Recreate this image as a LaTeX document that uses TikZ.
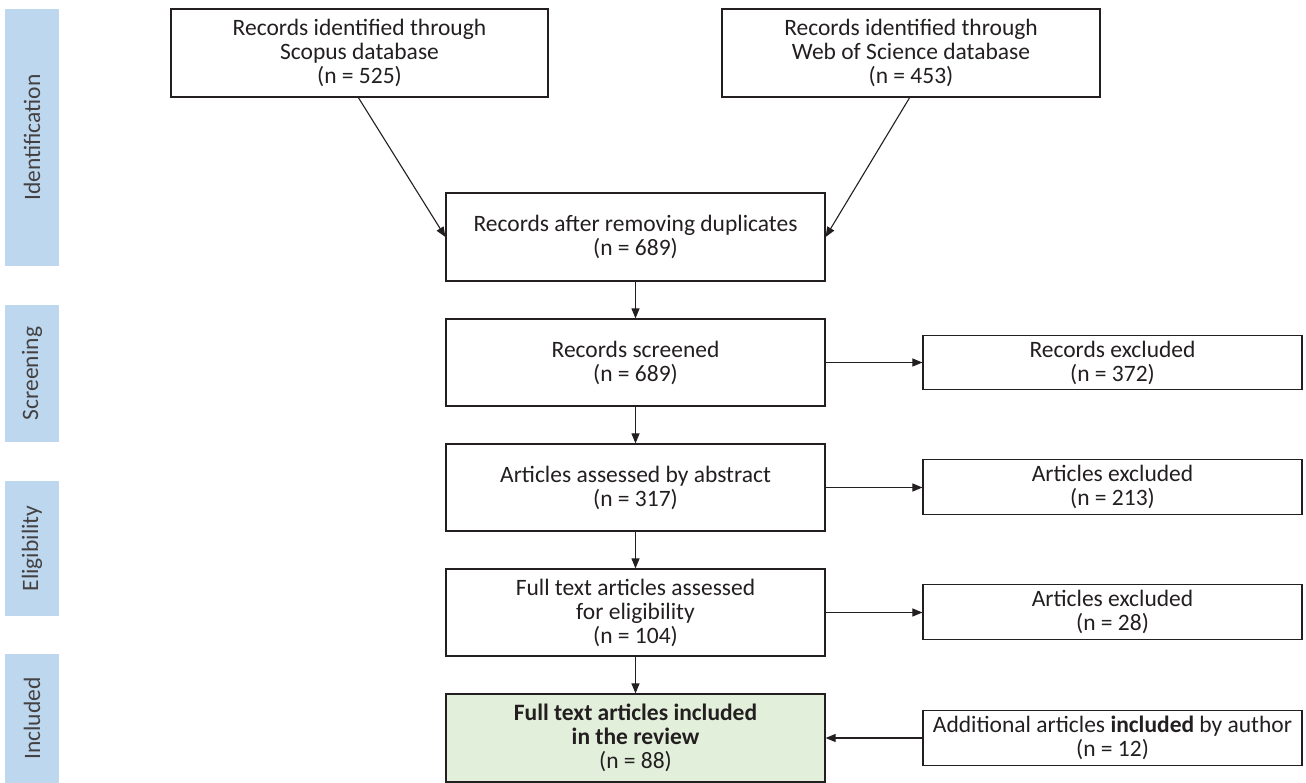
\documentclass[tikz,border=0pt]{standalone}
\usepackage{fontspec}
\setmainfont{Carlito}
\usetikzlibrary{arrows.meta}
\definecolor{sidebar}{HTML}{BDD7EE}
\definecolor{incl}{HTML}{E2EFDA}
\definecolor{ink}{HTML}{231F20}
\tikzset{
  box/.style={draw=ink, line width=1.2pt, align=center, inner sep=0pt, text=ink,
    font=\fontsize{23.5}{24}\selectfont},
  side/.style={fill=sidebar, draw=none, inner sep=0pt},
  sidetext/.style={rotate=90, text=ink!85, font=\fontsize{23.5}{24}\selectfont},
  arr/.style={draw=ink, line width=1.1pt, -{Triangle[length=10pt,width=8pt]}},
}
\begin{document}
\begin{tikzpicture}[x=1pt,y=-1pt]
\useasboundingbox (0,0) rectangle (1306,783);
% side bars
\node[side, minimum width=54pt, minimum height=257pt] (sid) at (32,137.5) {};
\node[sidetext] (sidt) at (sid.center) {Identification};
\node[side, minimum width=54pt, minimum height=137pt] (ssc) at (32,373.5) {};
\node[sidetext] (ssct) at (ssc.center) {Screening};
\node[side, minimum width=54pt, minimum height=135pt] (sel) at (32,548.5) {};
\node[sidetext] (selt) at (sel.center) {Eligibility};
\node[side, minimum width=54pt, minimum height=129pt] (sin) at (32,718.5) {};
\node[sidetext] (sint) at (sin.center) {Included};
% boxes
\node[box, minimum width=377pt, minimum height=88pt] (scop) at (359.5,53) {Records identified through\\Scopus database\\(n = 525)};
\node[box, minimum width=378pt, minimum height=88pt] (wos) at (911,53) {Records identified through\\Web of Science database\\(n = 453)};
\node[box, minimum width=379pt, minimum height=88pt] (dup) at (635.5,237) {Records after removing duplicates\\(n = 689)};
\node[box, minimum width=379pt, minimum height=87pt] (scr) at (635.5,362.5) {Records screened\\(n = 689)};
\node[box, minimum width=379pt, minimum height=87pt] (abs) at (635.5,487.5) {Articles assessed by abstract\\(n = 317)};
\node[box, minimum width=379pt, minimum height=87pt] (ft) at (635.5,612.5) {Full text articles assessed\\for eligibility\\(n = 104)};
\node[box, fill=incl, minimum width=379pt, minimum height=88pt] (inc) at (635.5,738) {\textbf{Full text articles included}\\\textbf{in the review}\\(n = 88)};
\node[box, minimum width=379pt, minimum height=54pt] (rex) at (1112.5,362.5) {Records excluded\\(n = 372)};
\node[box, minimum width=379pt, minimum height=55pt] (aex1) at (1112.5,487) {Articles excluded\\(n = 213)};
\node[box, minimum width=379pt, minimum height=55pt] (aex2) at (1112.5,612) {Articles excluded\\(n = 28)};
\node[box, minimum width=379pt, minimum height=55pt] (add) at (1112.5,738) {Additional articles \textbf{included} by author\\(n = 12)};
% connectors
\coordinate (s1) at (358,97);
\coordinate (w1) at (910,97);
\draw[arr] (s1) -- (dup.west);
\draw[arr] (w1) -- (dup.east);
\draw[arr] (dup.south) -- (scr.north);
\draw[arr] (scr.south) -- (abs.north);
\draw[arr] (abs.south) -- (ft.north);
\draw[arr] (ft.south) -- (inc.north);
\draw[arr] (scr.east) -- (scr.east -| rex.west);
\draw[arr] (abs.east) -- (abs.east -| aex1.west);
\draw[arr] (ft.east) -- (ft.east -| aex2.west);
\draw[arr] (add.west) -- (add.west -| inc.east);
\end{tikzpicture}
\end{document}
